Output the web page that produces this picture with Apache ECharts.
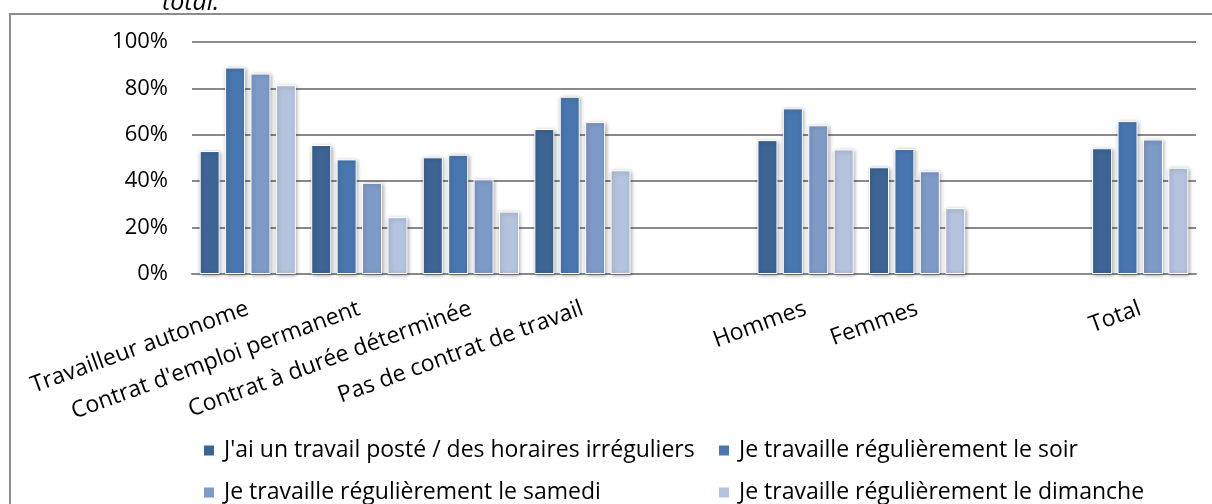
<!DOCTYPE html>
<html>
<head>
<meta charset="utf-8">
<script src="https://cdn.jsdelivr.net/npm/echarts@6/dist/echarts.min.js"></script>
<style>
  html, body { margin: 0; padding: 0; background: #fff; }
  #main { width: 1212px; height: 504px; }
</style>
</head>
<body>
<div id="main"></div>
<script>
// categories (empty names are the gaps between the groups)
var categories = ['Travailleur autonome', "Contrat d'emploi permanent", 'Contrat à durée déterminée',
    'Pas de contrat de travail', '', 'Hommes', 'Femmes', '', 'Total'];

var seriesNames = ["J'ai un travail posté / des horaires irréguliers",
    'Je travaille régulièrement le soir',
    'Je travaille régulièrement le samedi',
    'Je travaille régulièrement le dimanche'];

var poste    = [53.0, 55.6, 50.3, 62.5, null, 57.7, 46.0, null, 54.2];
var soir     = [89.0, 49.4, 51.4, 76.4, null, 71.4, 53.9, null, 65.9];
var samedi   = [86.4, 39.3, 40.8, 65.5, null, 64.1, 44.3, null, 58.0];
var dimanche = [81.4, 24.5, 26.9, 44.7, null, 53.7, 28.4, null, 45.8];

var colors = ['#3c6595', '#4877b0', '#7e9bc7', '#b5c3de'];
var yTicks = [0, 20, 40, 60, 80, 100];

var font = 'Open Sans';
var chart = echarts.init(document.getElementById('main'));

function bar(name, data, color){
    return {
        name: name,
        type: 'bar',
        data: data,
        barWidth: 20,
        barGap: '27%',
        itemStyle: {
            color: color,
            borderColor: '#fff',
            borderWidth: 1,
            shadowColor: 'rgba(0,0,0,0.35)',
            shadowBlur: 4,
            shadowOffsetX: 1,
            shadowOffsetY: 1
        }
    };
}

function legendAt(name, left, top){
    return {
        data: [name],
        left: left,
        top: top,
        itemWidth: 12,
        itemHeight: 12,
        itemGap: 0,
        icon: 'rect',
        textStyle: { fontFamily: font, fontSize: 23, color: '#000', padding: [0, 0, 0, 4] }
    };
}

var option = {
    animation: false,
    color: colors,
    grid: { left: 192, right: 16, top: 42, bottom: 230 },
    graphic: [
        {
            type: 'rect',
            shape: { x: 10, y: 14, width: 1220, height: 520 },
            style: { fill: 'none', stroke: '#8c8c8c', lineWidth: 2 }
        },
        {
            type: 'text',
            left: 162,
            top: -10,
            style: { text: 'total.', font: 'italic 25px "Open Sans"', fill: '#000' }
        }
    ],
    legend: [
        legendAt(seriesNames[0], 197, 434),
        legendAt(seriesNames[1], 712, 434),
        legendAt(seriesNames[2], 197, 476),
        legendAt(seriesNames[3], 712, 476)
    ],
    xAxis: {
        type: 'category',
        data: categories,
        axisTick: { show: false },
        axisLine: { lineStyle: { color: '#8a8a8a', width: 2 } },
        axisLabel: {
            interval: 0,
            rotate: 20,
            margin: 34,
            fontFamily: font,
            fontSize: 23,
            color: '#000'
        }
    },
    yAxis: {
        type: 'value',
        min: 0,
        max: 100,
        interval: 20,
        axisLine: { show: false },
        axisTick: { show: false },
        splitLine: { lineStyle: { color: '#8a8a8a', width: 2 } },
        axisLabel: {
            margin: 24,
            fontFamily: font,
            fontSize: 22,
            color: '#000',
            formatter: function(v){ return yTicks.indexOf(v) >= 0 ? v + '%' : ''; }
        }
    },
    series: [
        bar(seriesNames[0], poste, colors[0]),
        bar(seriesNames[1], soir, colors[1]),
        bar(seriesNames[2], samedi, colors[2]),
        bar(seriesNames[3], dimanche, colors[3])
    ]
};
chart.setOption(option);
</script>
</body>
</html>
